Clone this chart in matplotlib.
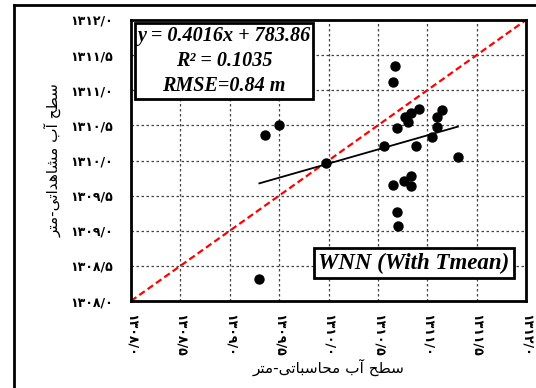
import matplotlib
matplotlib.use('Agg')
import matplotlib.pyplot as plt
from matplotlib.lines import Line2D

# calculated (x) vs observed (y) water level, m
x_calc = [1310.67, 1310.65, 1309.50, 1309.36, 1310.92, 1310.84, 1310.77, 1310.81,
          1310.69, 1311.15, 1311.10, 1311.10, 1311.05, 1310.89, 1310.56, 1311.31,
          1309.97, 1310.65, 1310.76, 1310.84, 1310.84, 1310.69, 1310.70, 1309.30]
y_obs = [1311.35, 1311.12, 1310.51, 1310.36, 1310.73, 1310.67, 1310.62, 1310.55,
         1310.46, 1310.72, 1310.62, 1310.48, 1310.34, 1310.21, 1310.20, 1310.05,
         1309.97, 1309.65, 1309.71, 1309.78, 1309.63, 1309.26, 1309.07, 1308.31]
slope = 0.4016
intercept = 783.86
ticks = [1308.0, 1308.5, 1309.0, 1309.5, 1310.0, 1310.5, 1311.0, 1311.5, 1312.0]
stats_text = 'y = 0.4016x + 783.86\nR² = 0.1035\nRMSE=0.84 m'
model_text = 'WNN (With Tmean)'
xlabel = 'سطح آب محاسباتی-متر'
ylabel = 'سطح آب مشاهداتی-متر'

# matplotlib does no arabic shaping -> do a small one by hand
forms = {  # isolated, final, initial, medial
    'س': ('\uFEB1', '\uFEB2', '\uFEB3', '\uFEB4'),
    'ط': ('\uFEC1', '\uFEC2', '\uFEC3', '\uFEC4'),
    'ح': ('\uFEA1', '\uFEA2', '\uFEA3', '\uFEA4'),
    'ب': ('\uFE8F', '\uFE90', '\uFE91', '\uFE92'),
    'م': ('\uFEE1', '\uFEE2', '\uFEE3', '\uFEE4'),
    'ش': ('\uFEB5', '\uFEB6', '\uFEB7', '\uFEB8'),
    'ه': ('\uFEE9', '\uFEEA', '\uFEEB', '\uFEEC'),
    'ت': ('\uFE95', '\uFE96', '\uFE97', '\uFE98'),
    'ی': ('\uFBFC', '\uFBFD', '\uFBFE', '\uFBFF'),
    'آ': ('\uFE81', '\uFE82', None, None),
    'ا': ('\uFE8D', '\uFE8E', None, None),
    'د': ('\uFEA9', '\uFEAA', None, None),
    'ر': ('\uFEAD', '\uFEAE', None, None),
}

def shape(s):
    out = []
    for i, c in enumerate(s):
        if c not in forms:
            out.append(c)
            continue
        f = forms[c]
        p = s[i - 1] if i > 0 else ''
        n = s[i + 1] if i < len(s) - 1 else ''
        join_prev = p in forms and forms[p][2] is not None
        join_next = f[2] is not None and n in forms
        if join_prev and join_next:
            out.append(f[3])
        elif join_prev:
            out.append(f[1])
        elif join_next:
            out.append(f[2])
        else:
            out.append(f[0])
    return ''.join(out)[::-1]

def fa_num(v):
    digits = '۰۱۲۳۴۵۶۷۸۹'
    s = '%.1f' % v
    return ''.join(digits[int(ch)] if ch.isdigit() else '/' for ch in s)

fig = plt.figure(figsize=(5.36, 3.88), dpi=100)
ax = fig.add_axes([131/536, 1 - 301/388, 395/536, 281/388])

ax.plot([1308, 1312], [1308, 1312], color='red', lw=1.6, ls=(0, (3, 1.6)), zorder=2)
xl = [min(x_calc), max(x_calc)]
ax.plot(xl, [slope * v + intercept for v in xl], color='black', lw=1.3, zorder=3)
ax.scatter(x_calc, y_obs, s=42, color='black', zorder=4)

ax.set_xlim(1308, 1312)
ax.set_ylim(1308, 1312)
ax.set_xticks(ticks)
ax.set_yticks(ticks)
ax.set_xticklabels([fa_num(t) for t in ticks], rotation=-90, fontsize=9,
                   fontweight='bold', family=['DejaVu Sans'])
ax.set_yticklabels([fa_num(t) for t in ticks], fontsize=9,
                   fontweight='bold', family=['DejaVu Sans'])
ax.tick_params(length=0, pad=9)
ax.tick_params(axis='y', pad=13)
ax.grid(True, color='#444444', ls=(0, (2, 2)), lw=0.9)
for sp in ax.spines.values():
    sp.set_linewidth(2)

ax.set_xlabel(shape(xlabel), fontsize=11, family=['DejaVu Sans'], labelpad=2)
ax.set_ylabel(shape(ylabel), fontsize=11, family=['DejaVu Sans'], labelpad=6)

ax.text(0.235, 0.854, stats_text, transform=ax.transAxes, ha='center', va='center',
        fontsize=14.5, fontweight='bold', fontstyle='italic', family='Liberation Serif',
        linespacing=1.35,
        bbox=dict(boxstyle='square,pad=0.12', fc='white', ec='black', lw=2))
ax.text(0.716, 0.135, model_text, transform=ax.transAxes, ha='center', va='center',
        fontsize=16.5, fontweight='bold', fontstyle='italic', family='Liberation Serif',
        bbox=dict(boxstyle='square,pad=0.18', fc='white', ec='black', lw=2))

# outer frame (only top and left visible in the crop)
fig.add_artist(Line2D([14/536, 1], [1 - 5/388, 1 - 5/388], color='black', lw=2,
                      transform=fig.transFigure))
fig.add_artist(Line2D([14/536, 14/536], [0, 1 - 5/388], color='black', lw=2,
                      transform=fig.transFigure))

fig.savefig('out.png', dpi=100)
